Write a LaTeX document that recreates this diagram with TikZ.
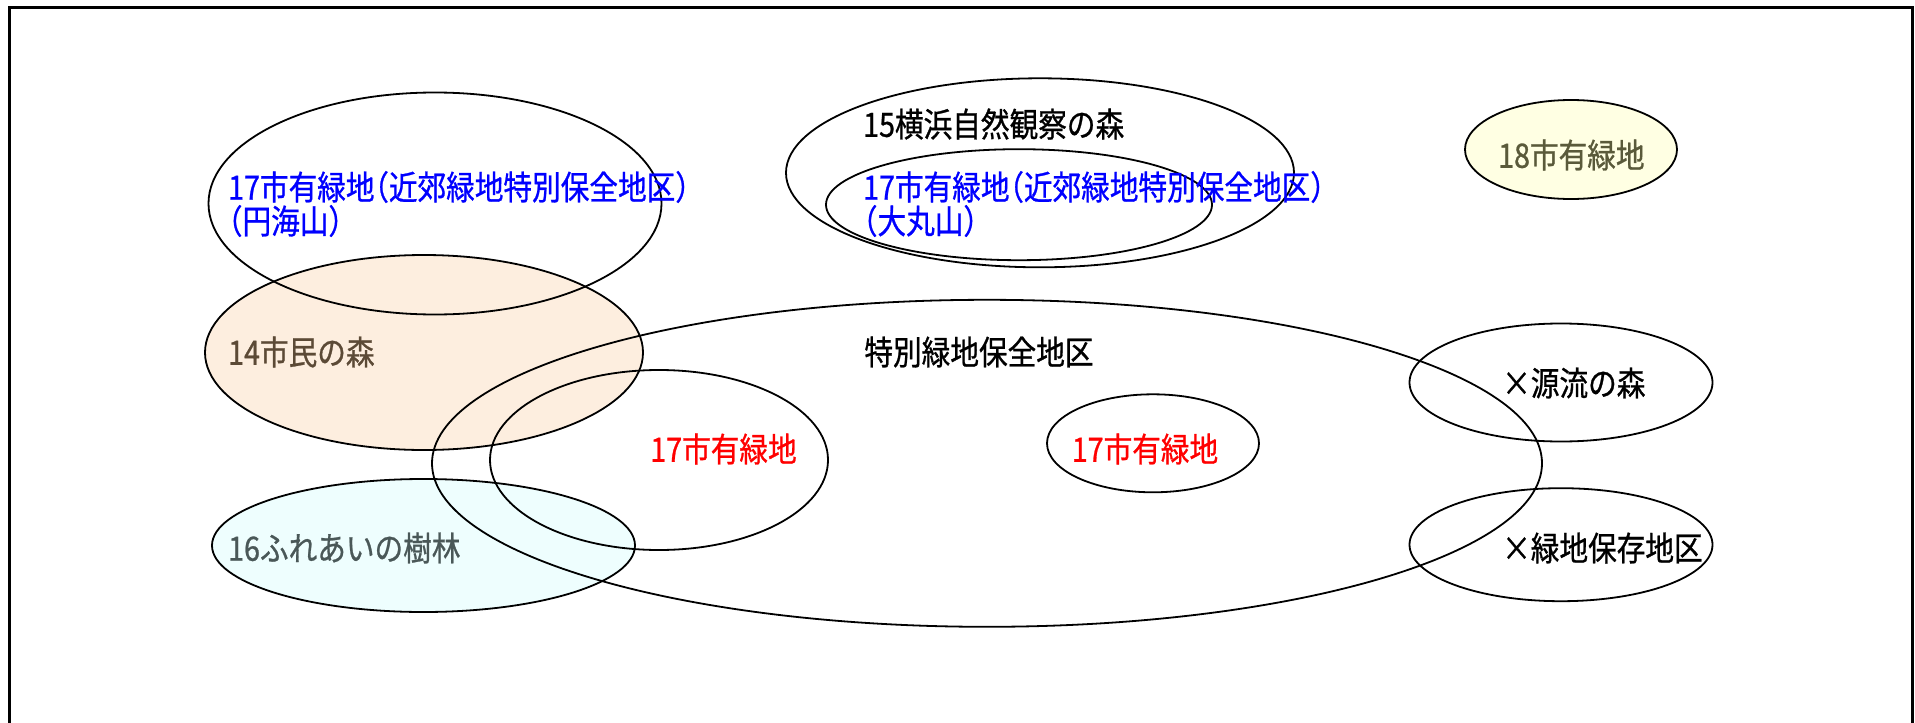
\documentclass[tikz,border=0pt]{standalone}
\usepackage{fontspec}
\setmainfont{Noto Sans CJK JP}[FakeStretch=0.855,FakeBold=0.8,RawFeature=+halt]
\usetikzlibrary{shapes.geometric}
\definecolor{orangefill}{HTML}{FDEEDF}
\definecolor{cyanfill}{HTML}{EEFEFE}
\definecolor{yellowfill}{HTML}{FFFFE3}
\definecolor{browntext}{HTML}{5C4A36}
\definecolor{slatetext}{HTML}{4A5858}
\definecolor{olivetext}{HTML}{5A5A3A}
\definecolor{bluetext}{HTML}{0000FF}
\definecolor{redtext}{HTML}{FF0000}
\tikzset{
  zone/.style={ellipse, draw=black, line width=1.8pt, inner sep=0pt},
  lbl/.style={inner sep=0pt, font=\fontsize{33.5}{34}\selectfont, align=left},
  frameline/.style={draw=black, line width=3pt}
}
\begin{document}
\begin{tikzpicture}[x=1pt,y=-1pt]
\useasboundingbox (0,0) rectangle (1915,723);
% frame (open at the bottom)
\coordinate (f1) at (9,740);
\coordinate (f2) at (9,7);
\coordinate (f3) at (1912,7);
\coordinate (f4) at (1912,740);
\draw[frameline] (f1) -- (f2) -- (f3) -- (f4);
% filled ellipses
\node[zone, fill=orangefill, minimum width=438, minimum height=195] (shimin) at (424,352.5) {};
\node[zone, fill=cyanfill, minimum width=423, minimum height=133] (fureai) at (423.5,545.5) {};
\node[zone, fill=yellowfill, minimum width=212, minimum height=99] (y18) at (1571,149.5) {};
% outline ellipses
\node[zone, minimum width=453, minimum height=222] (enkai) at (435,203.5) {};
\node[zone, minimum width=508, minimum height=189] (kansatsu) at (1040,172.8) {};
\node[zone, minimum width=386, minimum height=111] (oomaru) at (1019,204.7) {};
\node[zone, minimum width=1110, minimum height=327] (tokubetsu) at (987,463.3) {};
\node[zone, minimum width=338, minimum height=180] (shiyuA) at (659,460) {};
\node[zone, minimum width=212, minimum height=98] (shiyuB) at (1153,443.3) {};
\node[zone, minimum width=303, minimum height=118] (genryu) at (1561,382.5) {};
\node[zone, minimum width=303, minimum height=113] (hozon) at (1561,544.7) {};
% labels
\node[lbl, anchor=west, text=bluetext] (enkaiT) at (228,204) {17市有緑地（近郊緑地特別保全地区）\\（円海山）};
\node[lbl, anchor=west] (kansatsuT) at (863,124) {15横浜自然観察の森};
\node[lbl, anchor=west, text=bluetext] (oomaruT) at (863,204) {17市有緑地（近郊緑地特別保全地区）\\（大丸山）};
\node[lbl, anchor=west, text=olivetext] (y18T) at (1498,155) {18市有緑地};
\node[lbl, anchor=west, text=browntext] (shiminT) at (228,352) {14市民の森};
\node[lbl, anchor=west, text=slatetext] (fureaiT) at (228,548) {16ふれあいの樹林};
\node[lbl] (tokubetsuT) at (979,352) {特別緑地保全地区};
\node[lbl, text=redtext] (shiyuAT) at (723.5,449) {17市有緑地};
\node[lbl, text=redtext] (shiyuBT) at (1145,449) {17市有緑地};
\node[lbl, anchor=west] (genryuT) at (1502,383) {×源流の森};
\node[lbl, anchor=west] (hozonT) at (1502,548) {×緑地保存地区};
\end{tikzpicture}
\end{document}
